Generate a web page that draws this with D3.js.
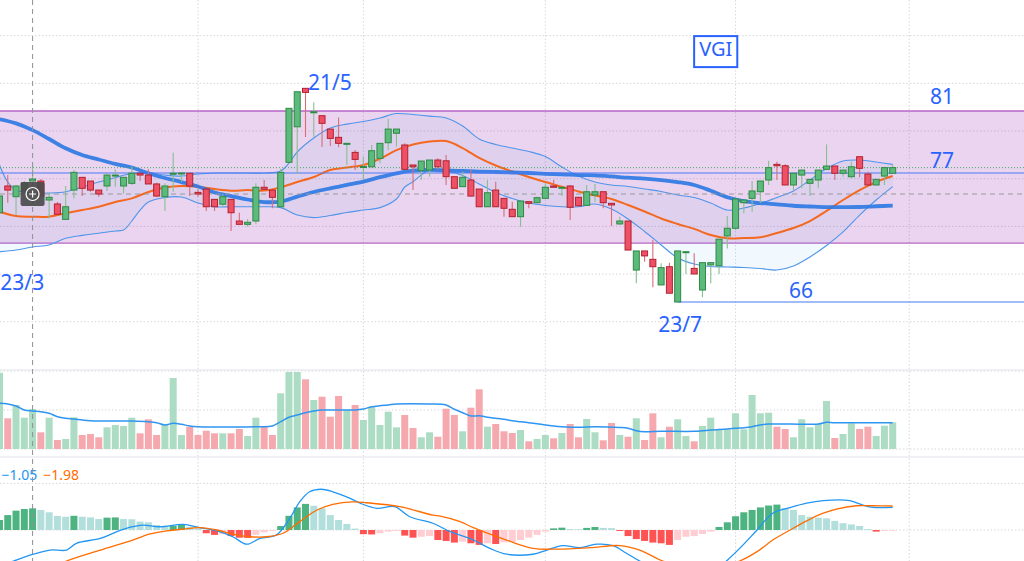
<!DOCTYPE html>
<html lang="en">
<head>
  <meta charset="utf-8" />
  <title>VGI - candles, volume and MACD</title>
  <script src="https://cdn.jsdelivr.net/npm/d3@7"></script>
  <style>
    body { margin: 0; background: #fff; }
    svg { display: block; }
  </style>
</head>
<body>
<script>
  // ---- data (one entry per bar) ----
  var opens  = [73.01,75.11,74.27,74.79,75.50,75.50,74.01,73.70,72.49,74.79,75.79,75.50,74.79,75.11,75.93,75.11,75.32,76.11,75.97,75.27,
                74.27,76.08,76.09,76.11,74.61,74.87,74.06,73.68,74.06,72.36,72.10,72.36,75.01,74.79,73.48,76.97,79.76,82.78,80.86,80.63,
                79.58,78.93,78.44,77.75,76.60,76.62,77.28,78.51,79.25,78.33,76.76,76.31,76.36,77.15,77.09,75.84,75.06,75.58,74.87,73.48,
                74.79,74.14,73.28,72.70,73.88,73.80,74.14,75.11,74.98,75.11,74.22,73.59,74.40,74.66,73.75,72.13,72.36,68.51,70.01,69.35,
                67.34,68.77,66.00,69.93,68.64,66.94,68.91,68.85,71.19,71.79,73.80,74.14,74.66,75.58,76.81,76.70,75.19,75.97,75.32,75.58,
                76.42,76.68,76.11,75.84,77.41,76.05,75.19,75.89,76.11];
  var highs  = [74.79,75.97,75.19,75.50,76.68,75.66,74.58,73.85,75.11,76.36,75.82,75.50,74.79,76.03,76.42,75.79,76.62,76.11,76.42,75.37,
                75.32,77.72,76.17,76.11,74.85,74.87,74.06,74.48,74.06,73.01,72.52,75.32,75.58,74.79,76.47,81.21,82.51,82.78,81.68,80.68,
                79.58,80.49,78.49,77.93,77.41,78.33,78.46,80.37,79.58,78.46,76.76,77.07,77.15,77.28,77.54,75.84,76.23,76.36,74.87,75.58,
                75.45,74.14,73.88,73.93,73.88,74.27,75.32,75.58,75.01,75.19,74.27,75.19,75.27,74.66,73.75,72.70,72.36,70.01,70.01,70.87,
                69.04,69.08,70.01,69.95,69.82,69.09,69.09,70.93,72.75,74.09,74.01,75.50,75.50,77.09,77.01,76.81,76.11,76.36,75.63,76.36,
                78.38,76.68,76.36,77.01,77.41,76.23,75.63,76.55,76.81];
  var lows   = [72.83,73.80,72.83,74.56,75.19,74.17,72.57,72.83,72.44,74.14,74.32,74.66,74.27,74.72,75.06,74.53,75.19,75.50,75.27,74.27,
                73.15,74.66,75.45,74.32,74.27,73.15,73.15,73.48,71.57,72.10,71.91,72.10,74.79,73.36,73.44,76.91,76.05,78.96,78.98,78.17,
                78.25,78.15,76.76,76.36,75.63,76.58,76.89,77.93,78.19,76.36,74.79,75.58,75.84,76.36,75.19,74.93,75.06,74.27,73.48,73.48,
                73.48,72.70,72.70,71.91,73.36,73.75,74.14,75.01,74.32,72.44,73.48,73.56,73.88,73.36,71.97,72.05,70.08,67.47,69.17,67.16,
                67.34,66.69,66.00,68.20,68.20,66.37,67.47,68.20,70.21,71.65,72.97,73.09,73.75,75.19,75.58,75.19,74.79,74.93,74.32,74.93,
                76.42,75.58,75.84,75.71,75.79,75.19,75.19,75.19,76.11];
  var closes = [74.32,74.79,75.11,75.35,75.66,74.32,74.22,72.89,73.48,76.18,74.93,74.79,74.48,75.97,75.97,75.79,76.11,75.97,75.27,74.32,
                75.11,76.11,76.13,75.11,74.48,73.48,73.48,74.27,73.01,72.10,72.26,75.01,74.85,74.22,76.18,81.21,82.51,82.46,80.94,80.03,
                78.85,78.46,78.46,77.20,76.64,77.88,78.46,79.58,79.58,76.42,76.62,77.07,77.15,76.62,75.84,74.93,75.79,74.32,73.48,74.58,
                73.48,73.36,72.70,73.93,73.75,74.19,75.01,75.01,75.01,73.44,73.56,74.66,74.66,73.80,73.62,72.36,70.08,70.01,69.62,68.77,
                68.70,66.69,70.01,69.95,68.20,69.09,69.09,70.93,71.79,74.09,74.01,74.72,75.50,76.55,76.70,75.19,76.11,76.36,75.63,76.36,
                76.68,76.11,76.36,76.62,76.50,75.19,75.63,76.55,76.55];
  // volume, thousand shares
  var volumes = [763,307,440,313,400,167,313,90,100,317,140,150,117,217,240,230,313,157,297,140,
                 240,710,140,223,140,183,157,157,157,200,130,313,223,140,557,770,770,697,490,523,
                 323,530,390,440,290,423,240,373,217,340,210,117,167,123,403,340,177,413,597,223,
                 250,177,160,190,77,100,140,107,160,250,117,300,167,87,260,140,123,307,90,357,
                 117,223,297,130,77,230,313,197,197,357,197,540,357,363,223,200,117,297,217,250,
                 480,110,150,257,200,223,130,233,267];
  // MACD histogram
  var histogram = [0.43,0.64,0.83,0.90,0.93,0.86,0.76,0.60,0.57,0.61,0.57,0.54,0.47,0.53,0.54,0.47,0.46,0.36,0.33,0.21,
                   0.17,0.18,0.24,0.14,0.07,-0.14,-0.21,-0.18,-0.26,-0.33,-0.34,-0.21,-0.10,-0.04,0.17,0.61,0.97,1.12,1.04,0.93,
                   0.64,0.43,0.26,0.06,-0.18,-0.19,-0.14,-0.07,-0.04,-0.24,-0.33,-0.29,-0.26,-0.43,-0.47,-0.54,-0.50,-0.57,-0.64,-0.57,
                   -0.60,-0.53,-0.51,-0.43,-0.33,-0.21,-0.07,0.07,0.10,0.04,0.03,0.09,0.13,0.09,0.08,-0.04,-0.26,-0.39,-0.47,-0.54,
                   -0.57,-0.64,-0.43,-0.29,-0.26,-0.17,-0.07,0.13,0.33,0.59,0.76,0.86,0.97,1.05,1.09,0.93,0.86,0.64,0.57,0.53,
                   0.50,0.39,0.29,0.24,0.17,0.04,-0.07,-0.04,-0.03];

  // indicator lines, read as [bar, value]
  var maSlow = [[0,80.35],[2,80.03],[4,79.50],[6,78.80],[8,78.07],[10,77.54],[12,77.19],[14,76.84],[16,76.56],[18,76.11],[20,75.74],
                [22,75.42],[24,75.07],[26,74.60],[28,74.32],[30,74.05],[32,73.85],[34,73.89],[36,74.27],[38,74.64],[40,74.93],[42,75.19],
                [44,75.45],[46,75.80],[48,76.11],[50,76.31],[52,76.37],[54,76.33],[56,76.29],[58,76.24],[60,76.21],[62,76.17],[64,76.13],
                [66,76.07],[68,76.03],[70,75.97],[72,75.94],[74,75.86],[76,75.76],[78,75.69],[80,75.58],[82,75.42],[84,75.19],[86,74.74],
                [88,74.23],[90,73.92],[92,73.77],[94,73.67],[96,73.56],[98,73.50],[100,73.45],[102,73.45],[104,73.46],[106,73.52],[108,73.57]];
  var bbBasis = [[0,73.09],[2,72.75],[4,72.70],[6,72.70],[8,72.97],[10,73.22],[12,73.48],[14,73.85],[16,74.14],[18,74.64],[20,74.99],
                 [22,75.11],[24,75.05],[26,74.87],[28,74.74],[30,74.79],[32,74.75],[34,75.01],[36,75.42],[38,75.82],[40,76.37],[42,76.56],
                 [44,76.76],[46,77.25],[48,77.93],[50,78.37],[52,78.60],[54,78.64],[56,78.09],[58,77.31],[60,76.72],[62,76.25],[64,75.82],
                 [66,75.42],[68,75.05],[70,74.68],[72,74.36],[74,74.09],[76,73.62],[78,73.11],[80,72.56],[82,72.13],[84,71.74],[86,71.26],
                 [88,71.00],[90,71.02],[92,71.08],[94,71.42],[96,71.81],[98,72.36],[100,73.15],[102,74.01],[104,74.79],[106,75.42],[108,75.89]];
  var bbUpper = [[0,76.76],[1,75.42],[2,74.79],[4,74.56],[6,74.56],[8,74.66],[10,75.03],[12,75.42],[14,75.78],[16,76.09],[18,76.16],
                 [20,75.97],[22,75.89],[24,76.05],[26,76.13],[28,76.13],[30,76.13],[32,76.13],[34,76.29],[35,76.91],[36,77.78],[38,78.88],
                 [40,79.66],[42,79.97],[44,80.17],[46,80.45],[48,80.80],[50,80.72],[52,80.60],[54,80.45],[56,79.82],[58,78.80],[60,78.37],
                 [62,78.09],[64,77.82],[66,77.42],[68,76.60],[70,75.89],[72,75.42],[74,75.19],[76,75.07],[78,74.87],[80,74.68],[82,74.40],
                 [84,74.21],[86,73.77],[88,73.22],[90,73.38],[92,73.74],[94,74.21],[96,74.72],[98,75.58],[100,76.48],[102,77.07],[104,77.15],
                 [106,76.99],[108,76.81]];
  var bbLower = [[0,69.95],[2,70.08],[4,70.32],[6,70.48],[8,71.00],[10,71.23],[12,71.40],[14,71.58],[15,71.65],[16,72.36],[17,73.22],
                 [18,73.85],[20,74.21],[22,74.24],[24,73.77],[26,73.48],[28,73.48],[30,73.48],[32,73.48],[34,73.41],[36,72.83],[38,72.63],
                 [40,72.79],[42,73.03],[44,73.22],[46,73.41],[48,74.09],[49,75.03],[50,75.45],[52,76.37],[54,76.29],[56,75.93],[58,75.27],
                 [60,74.60],[62,74.13],[64,73.77],[66,73.58],[68,73.48],[70,73.48],[72,73.70],[74,73.30],[76,72.52],[78,71.54],[80,70.48],
                 [82,69.46],[84,68.99],[86,68.79],[88,68.75],[90,68.71],[92,68.63],[94,68.51],[96,68.83],[98,69.54],[100,70.44],[102,71.50],
                 [104,72.83],[106,74.01],[108,75.06]];
  var volumeMa = [[0,457],[1,450],[2,430],[3,390],[4,380],[5,373],[6,357],[7,323],[8,307],[9,300],[10,290],[11,283],[12,280],[16,280],
                  [18,273],[19,263],[20,240],[21,257],[22,247],[23,230],[24,223],[31,223],[33,230],[34,273],[35,317],[36,340],[37,363],
                  [38,380],[39,390],[43,390],[44,400],[45,423],[46,433],[47,440],[48,450],[52,450],[54,440],[55,397],[56,363],[57,330],
                  [58,333],[59,317],[60,307],[61,297],[62,283],[63,273],[64,263],[65,253],[66,240],[67,230],[68,223],[70,217],[72,223],
                  [75,215],[76,207],[77,183],[78,173],[80,177],[84,177],[85,183],[86,190],[88,200],[89,207],[90,213],[91,223],[92,240],
                  [93,250],[99,250],[100,267],[101,263],[108,263]];
  var macdLine = [[0,-1.55],[1.7,-1.33],[4,-1.05],[6.1,-0.86],[8.1,-0.86],[9.3,-0.57],[12.2,-0.36],[14.2,-0.07],[16.1,0.14],[17.3,0.21],
                  [19.4,0.14],[22.2,0.24],[24.2,0.10],[26.3,-0.04],[28.2,-0.29],[29.9,-0.61],[31.5,-0.36],[33.5,-0.21],[35.1,0.50],
                  [36.3,1.21],[37.5,1.64],[38.9,1.75],[40.3,1.64],[42.4,1.36],[43.6,1.15],[45.6,0.93],[47.8,1.00],[49.6,0.57],[52.4,0.29],
                  [54.5,-0.07],[57.3,-0.43],[59.3,-0.79],[61.3,-1.04],[64.5,-1.04],[66.2,-0.86],[68.1,-0.67],[70.2,-0.76],[72.2,-0.61],
                  [74.2,-0.67],[75.8,-1.00],[77.4,-1.33],[80.2,-1.90],[83.5,-2.20],[86,-1.90],[87.9,-1.33],[89.5,-0.79],[91.6,0.00],
                  [93.5,0.72],[95.6,0.96],[97.6,1.15],[99.6,1.26],[102.8,1.26],[104.4,1.07],[105.6,0.97],[108,0.97]];
  var signalLine = [[0,-2.40],[4,-1.98],[8.1,-1.33],[12.2,-0.86],[16.1,-0.43],[18.2,-0.17],[20.2,-0.04],[22.2,0.04],[24.2,0.10],
                    [26.3,0.00],[28.2,-0.18],[30.3,-0.29],[32.3,-0.29],[34.3,-0.14],[36.3,0.36],[38.4,0.86],[40.3,1.10],[42.7,1.21],
                    [44.4,1.17],[48.4,1.00],[52.4,0.64],[53.3,0.60],[55.7,0.36],[57.3,0.10],[61.3,-0.43],[64.5,-0.79],[67.4,-0.82],
                    [71.4,-0.76],[75,-0.67],[77.4,-0.86],[80.2,-1.33],[84.7,-1.80],[89.5,-1.33],[91.6,-0.93],[93.5,-0.43],[95.6,0.00],
                    [97.6,0.39],[99.6,0.72],[101.6,0.93],[103.6,1.04],[105.6,1.04],[108,1.03]];

  // drawn levels and annotations
  var boxTop = 81, boxBottom = 70.63;
  var levelLine = 76.13, lowLine = 66, lowBar = 82;
  var cross = {bar: 4, price: 74.48};
  var priceGrid = [86.92, 83.17, 79.43, 75.68, 71.94, 68.19, 64.45];
  var volGrid = [0, 390, 780];
  var macdGrid = [0, 2];
  var monthBars = [24, 44, 66, 89, 110];
  var labels = [
    {text: "23/3", bar: 0.1,  price: 66.94, anchor: "start"},
    {text: "21/5", bar: 37.3, price: 82.61, anchor: "start"},
    {text: "23/7", bar: 82.3, price: 63.65, anchor: "middle"},
    {text: "66",   bar: 96.9, price: 66.31, anchor: "middle"},
    {text: "81",   bar: 112.5, price: 81.55, anchor: "start"},
    {text: "77",   bar: 112.5, price: 76.52, anchor: "start"}
  ];
  var ticker = {text: "VGI", bar: 86.6, price: 85.9};

  // ---- layout ----
  var w = 1024, h = 561;
  var pane = {price: [0, 370], vol: [370, 457], macd: [457, 561]};

  var x = d3.scaleLinear().domain([0, 108]).range([-0.5, 892.7]);
  var y = d3.scaleLinear().domain([66, 81]).range([302, 111]);
  var yVol = d3.scaleLinear().domain([0, 780]).range([449, 371]);
  var yMacd = d3.scaleLinear().domain([0, 2]).range([530, 483.4]);

  var svg = d3.select("body").append("svg")
      .attr("width", w)
      .attr("height", h)
      .style("font-family", "'Noto Sans', 'DejaVu Sans', sans-serif");

  var defs = svg.append("defs");
  Object.keys(pane).forEach(function(k) {
    defs.append("clipPath").attr("id", "cp-" + k)
      .append("rect")
      .attr("x", 0).attr("y", pane[k][0])
      .attr("width", w).attr("height", pane[k][1] - pane[k][0]);
  });

  svg.append("rect").attr("width", w).attr("height", h).attr("fill", "#fff");

  //grid first, everything else sits on it
  var grid = svg.append("g")
      .attr("stroke", "#d8d8dc")
      .attr("stroke-dasharray", "1.5,2");
  grid.selectAll("line.v").data(monthBars).enter().append("line")
      .attr("x1", function(d) { return x(d); })
      .attr("x2", function(d) { return x(d); })
      .attr("y1", 0).attr("y2", h);
  grid.selectAll("line.p").data(priceGrid).enter().append("line")
      .attr("x1", 0).attr("x2", w)
      .attr("y1", function(d) { return y(d); })
      .attr("y2", function(d) { return y(d); });
  grid.selectAll("line.vg").data(volGrid).enter().append("line")
      .attr("x1", 0).attr("x2", w)
      .attr("y1", function(d) { return yVol(d); })
      .attr("y2", function(d) { return yVol(d); });
  grid.selectAll("line.mg").data(macdGrid).enter().append("line")
      .attr("x1", 0).attr("x2", w)
      .attr("y1", function(d) { return yMacd(d); })
      .attr("y2", function(d) { return yMacd(d); });

  // pane separators
  svg.selectAll("line.sep").data([pane.price[1], pane.vol[1]]).enter().append("line")
      .attr("x1", 0).attr("x2", w)
      .attr("y1", function(d) { return d; })
      .attr("y2", function(d) { return d; })
      .attr("stroke", "#e0e3eb");

  // ---- price pane ----
  var gp = svg.append("g").attr("clip-path", "url(#cp-price)");

  gp.append("rect")
      .attr("x", 0).attr("width", w)
      .attr("y", y(boxTop))
      .attr("height", y(boxBottom) - y(boxTop))
      .attr("fill", "rgba(156,39,176,0.2)");
  gp.selectAll("line.box").data([boxTop, boxBottom]).enter().append("line")
      .attr("x1", 0).attr("x2", w)
      .attr("y1", function(d) { return y(d); })
      .attr("y2", function(d) { return y(d); })
      .attr("stroke", "#b765c6")
      .attr("stroke-width", 1.3);

  var curve = d3.curveCatmullRom.alpha(0.5);
  var priceLine = d3.line()
      .x(function(d) { return x(d[0]); })
      .y(function(d) { return y(d[1]); })
      .curve(curve);

  // bollinger background
  gp.append("path")
      .attr("d", priceLine(bbUpper) + "L" + priceLine(bbLower.slice().reverse()).slice(1) + "Z")
      .attr("fill", "rgba(33,150,243,0.06)");

  [bbUpper, bbLower].forEach(function(s) {
    gp.append("path").attr("d", priceLine(s))
      .attr("fill", "none").attr("stroke", "#4f95ea").attr("stroke-width", 1.1);
  });
  gp.append("path").attr("d", priceLine(bbBasis))
      .attr("fill", "none").attr("stroke", "#f4681f").attr("stroke-width", 2);
  gp.append("path").attr("d", priceLine(maSlow))
      .attr("fill", "none").attr("stroke", "#2f7ae3").attr("stroke-width", 3.8)
      .attr("stroke-opacity", 0.92);

  // horizontal levels
  gp.append("line")
      .attr("x1", 0).attr("x2", w)
      .attr("y1", y(levelLine)).attr("y2", y(levelLine))
      .attr("stroke", "#4a78f5").attr("stroke-width", 1.2);
  gp.append("line")
      .attr("x1", x(lowBar)).attr("x2", w)
      .attr("y1", y(lowLine)).attr("y2", y(lowLine))
      .attr("stroke", "#4a78f5").attr("stroke-width", 1.2);
  gp.append("line")
      .attr("x1", 0).attr("x2", w)
      .attr("y1", y(closes[closes.length - 1])).attr("y2", y(closes[closes.length - 1]))
      .attr("stroke", "#3daa66").attr("stroke-dasharray", "1,2");
  gp.append("line")
      .attr("x1", 0).attr("x2", w)
      .attr("y1", y(cross.price)).attr("y2", y(cross.price))
      .attr("stroke", "#9a9a9a").attr("stroke-dasharray", "5,4");

  // candles
  var candles = opens.map(function(o, i) {
    return {i: i, o: o, h: highs[i], l: lows[i], c: closes[i]};
  });
  var up = function(d) { return d.c >= d.o; };

  gp.selectAll("line.wick").data(candles).enter().append("line")
      .attr("x1", function(d) { return x(d.i); })
      .attr("x2", function(d) { return x(d.i); })
      .attr("y1", function(d) { return y(d.h); })
      .attr("y2", function(d) { return y(d.l); })
      .attr("stroke", function(d) { return up(d) ? "#86bf90" : "#d66e7a"; })
      .attr("stroke-width", 1.1);
  gp.selectAll("rect.body").data(candles).enter().append("rect")
      .attr("x", function(d) { return x(d.i) - 3; })
      .attr("width", 6)
      .attr("y", function(d) { return y(Math.max(d.o, d.c)); })
      .attr("height", function(d) { return Math.max(1, Math.abs(y(d.o) - y(d.c))); })
      .attr("fill", function(d) { return up(d) ? "#5cba7d" : "#ee5165"; })
      .attr("stroke", function(d) { return up(d) ? "#2f8a43" : "#b3212f"; })
      .attr("stroke-width", 1);

  // annotations
  gp.selectAll("text.lbl").data(labels).enter().append("text")
      .attr("x", function(d) { return x(d.bar); })
      .attr("y", function(d) { return y(d.price); })
      .attr("text-anchor", function(d) { return d.anchor; })
      .attr("font-size", "21px")
      .attr("fill", "#2962ff")
      .text(function(d) { return d.text; });

  var tk = gp.append("text")
      .attr("x", x(ticker.bar))
      .attr("y", y(ticker.price))
      .attr("text-anchor", "middle")
      .attr("dominant-baseline", "central")
      .attr("font-size", "20px")
      .attr("fill", "#2962ff")
      .text(ticker.text);
  var bb = tk.node().getBBox();
  gp.insert("rect", "text")
      .attr("x", bb.x - 5).attr("y", bb.y + 1)
      .attr("width", bb.width + 10).attr("height", bb.height + 4)
      .attr("fill", "#fff")
      .attr("stroke", "#2962ff").attr("stroke-width", 2);
  tk.raise();

  // ---- volume pane ----
  var gv = svg.append("g").attr("clip-path", "url(#cp-vol)");
  gv.selectAll("rect.vol").data(candles).enter().append("rect")
      .attr("x", function(d) { return x(d.i) - 3.5; })
      .attr("width", 7)
      .attr("y", function(d) { return yVol(volumes[d.i]); })
      .attr("height", function(d) { return yVol(0) - yVol(volumes[d.i]); })
      .attr("fill", function(d) { return up(d) ? "#acdcc4" : "#f5a8ae"; });
  gv.append("path")
      .attr("d", d3.line()
        .x(function(d) { return x(d[0]); })
        .y(function(d) { return yVol(d[1]); })
        .curve(curve)(volumeMa))
      .attr("fill", "none").attr("stroke", "#2f95f0").attr("stroke-width", 1.5);

  // ---- MACD pane ----
  var gm = svg.append("g").attr("clip-path", "url(#cp-macd)");
  gm.selectAll("rect.hist").data(histogram).enter().append("rect")
      .attr("x", function(d, i) { return x(i) - 3.5; })
      .attr("width", 7)
      .attr("y", function(d) { return yMacd(Math.max(0, d)); })
      .attr("height", function(d) { return Math.abs(yMacd(d) - yMacd(0)); })
      .attr("fill", function(d, i) {
        var prev = i > 0 ? histogram[i - 1] : (d >= 0 ? -Infinity : Infinity);
        if (d >= 0) return d > prev ? "#4db380" : "#b2dfdb";
        return d < prev ? "#ff5252" : "#ffcdd2";
      });
  var macdPath = d3.line()
      .x(function(d) { return x(d[0]); })
      .y(function(d) { return yMacd(d[1]); })
      .curve(curve);
  gm.append("path").attr("d", macdPath(macdLine))
      .attr("fill", "none").attr("stroke", "#2196f3").attr("stroke-width", 1.3);
  gm.append("path").attr("d", macdPath(signalLine))
      .attr("fill", "none").attr("stroke", "#ff6d00").attr("stroke-width", 1.3);

  // legend values at the crosshair bar
  var fmt = function(v) { return d3.format(".2f")(v).replace("-", "\u2212"); };
  var atCross = function(s) { return s.filter(function(p) { return p[0] === cross.bar; })[0][1]; };
  var leg = gm.append("text")
      .attr("x", 1.5).attr("y", 480)
      .attr("font-size", "14px");
  leg.append("tspan").attr("fill", "#2196f3").text(fmt(atCross(macdLine)));
  leg.append("tspan").attr("fill", "#ff6d00").attr("dx", 6).text(fmt(atCross(signalLine)));

  // ---- crosshair ----
  svg.append("line")
      .attr("x1", x(cross.bar)).attr("x2", x(cross.bar))
      .attr("y1", 0).attr("y2", h)
      .attr("stroke", "#8f9198")
      .attr("stroke-dasharray", "5,4");

  var icon = svg.append("g")
      .attr("transform", "translate(" + x(cross.bar) + "," + y(cross.price) + ")");
  icon.append("rect")
      .attr("x", -12).attr("y", -12)
      .attr("width", 24).attr("height", 24)
      .attr("rx", 2)
      .attr("fill", "#4b4b4b").attr("fill-opacity", 0.92);
  icon.append("circle")
      .attr("r", 6.5)
      .attr("fill", "none").attr("stroke", "#fff").attr("stroke-width", 1.2);
  icon.append("path")
      .attr("d", "M-3.5,0H3.5M0,-3.5V3.5")
      .attr("stroke", "#fff").attr("stroke-width", 1.2);
</script>
</body>
</html>
